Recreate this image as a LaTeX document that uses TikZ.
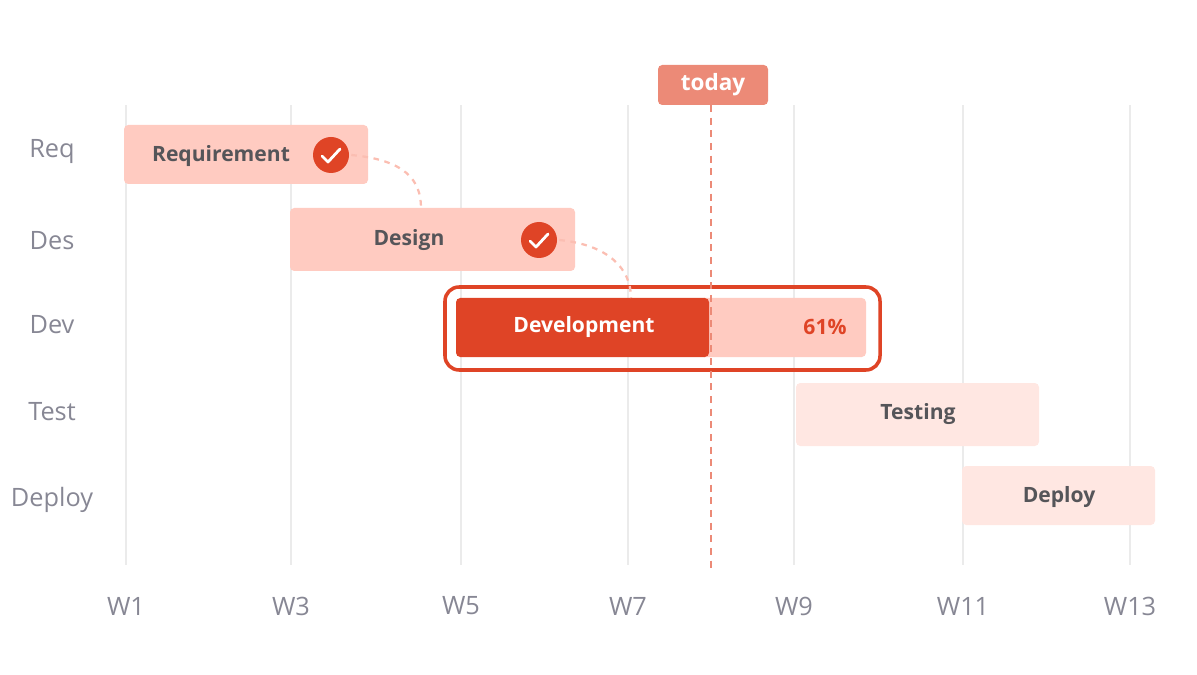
\documentclass[tikz,border=0pt]{standalone}
\usepackage{fontspec}
\setmainfont{Open Sans}
\usetikzlibrary{positioning}
\definecolor{barred}{HTML}{DF4426}
\definecolor{barpink}{HTML}{FFCBC1}
\definecolor{barpale}{HTML}{FFE7E2}
\definecolor{todayc}{HTML}{EC8A77}
\definecolor{gridc}{HTML}{EBEBEB}
\definecolor{axisc}{HTML}{878794}
\definecolor{textc}{HTML}{555559}
\tikzset{
  bar/.style={rounded corners=3pt, draw=none},
  barlabel/.style={font=\fontsize{15}{18}\selectfont\bfseries, text=textc},
  rowlabel/.style={font=\fontsize{18}{21}\selectfont, text=axisc},
  weeklabel/.style={font=\fontsize{18}{21}\selectfont, text=axisc},
  check/.style={circle, fill=barred, minimum size=36*0.025cm, inner sep=0pt},
  link/.style={draw=barpink!80!todayc, line width=1.6pt, dash pattern=on 4pt off 4pt}
}
\begin{document}
\begin{tikzpicture}[x=0.025cm, y=-0.025cm]
\useasboundingbox (0,0) rectangle (1197,675);
% grid and week labels
\foreach \x/\w in {126/W1, 291/W3, 461/W5, 628/W7, 794/W9, 963/W11, 1130/W13} {
  \draw[gridc, line width=1.5pt] (\x,105) -- (\x,565);
  \node[weeklabel] (wk\w) at (\x,606) {\w};
}
% row labels
\foreach \y/\r in {152/Req, 241/Des, 325/Dev, 412/Test, 500/Deploy}
  \node[rowlabel] (row\r) at (52,\y) {\r};
% bars
\fill[bar, barpink] (124,125) rectangle (368,184);
\node[barlabel] (req) at (221,156) {Requirement};
\node[check] (reqok) at (331,155) {};
\draw[white, line width=2pt, line cap=round, line join=round] (322,156) -- (328,162) -- (340,149);
\fill[bar, barpink] (290,208) rectangle (575,271);
\node[barlabel] (des) at (409,240) {Design};
\node[check] (desok) at (539,240) {};
\draw[white, line width=2pt, line cap=round, line join=round] (530,241) -- (536,247) -- (548,234);
\draw[barred, line width=2.5pt, rounded corners=10pt] (445,287) rectangle (880,370);
\fill[bar, barpink] (700,298) rectangle (866,357);
\fill[bar, barred] (456,298) rectangle (709,357);
\node[barlabel, text=white] (dev) at (584,327) {Development};
\node[barlabel, text=barred] (devpct) at (825,327) {61\%};
\fill[bar, barpale] (796,383) rectangle (1039,446);
\node[barlabel] (test) at (918,414) {Testing};
\fill[bar, barpale] (962,466) rectangle (1155,525);
\node[barlabel] (dep) at (1059,497) {Deploy};
% dependencies
\coordinate (destop) at (421,208);
\coordinate (devtop) at (631,298);
\draw[link] (reqok.east) ++(2,0) .. controls (405,160) and (421,180) .. (destop);
\draw[link] (desok.east) ++(2,0) .. controls (610,245) and (631,270) .. (devtop);
% today marker
\draw[todayc, line width=1.5pt, dash pattern=on 5pt off 4pt] (711,105) -- (711,570);
\node[fill=todayc, rounded corners=3pt, minimum width=110*0.025cm, minimum height=40*0.025cm,
  text=white, font=\fontsize{16}{19}\selectfont\bfseries] (today) at (713,85) {today};
\end{tikzpicture}
\end{document}
